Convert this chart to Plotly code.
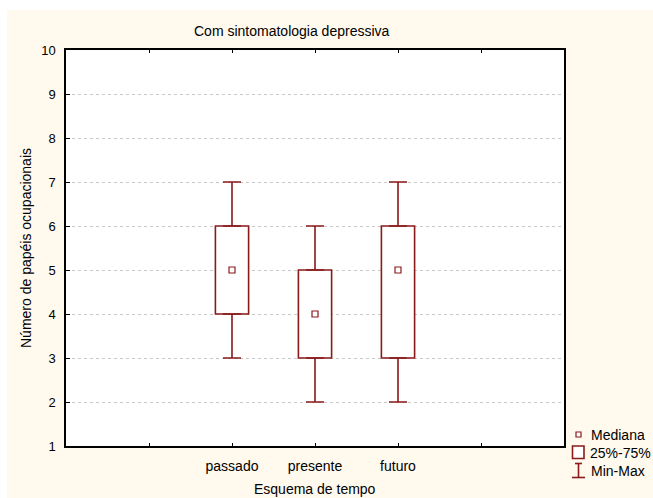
import plotly.graph_objects as go

# ---- data ----
categories = ["passado", "presente", "futuro"]
positions = [2, 3, 4]
medians = [5, 4, 5]
q1 = [4, 3, 3]
q3 = [6, 5, 6]
mins = [3, 2, 2]
maxs = [7, 6, 7]
x_tickvals = [1, 2, 3, 4, 5]
x_ticktext = [""] + categories + [""]
y_ticks = list(range(1, 11))

RED = "#8B1A1A"
BEIGE = "#FFF9EE"
FONT = "Liberation Sans, Arial, sans-serif"

W, H = 653, 498
L, R, T, B = 66, 89, 50, 52
PW, PH = W - L - R, H - T - B


def pxx(px):
    return (px - L) / PW


def pxy(py):
    return (H - B - py) / PH


fig = go.Figure()

# boxes (25%-75%)
fig.add_trace(go.Bar(
    x=positions, y=[b - a for a, b in zip(q1, q3)], base=q1, width=0.4,
    marker=dict(color="white", line=dict(color=RED, width=1.6)),
    showlegend=False, hoverinfo="skip",
))
# upper whiskers
fig.add_trace(go.Scatter(
    x=positions, y=q3, mode="markers",
    marker=dict(size=1, color="rgba(0,0,0,0)"),
    error_y=dict(type="data", symmetric=False,
                 array=[mx - a for mx, a in zip(maxs, q3)],
                 arrayminus=[0] * len(q3),
                 color=RED, thickness=1.6, width=9),
    showlegend=False, hoverinfo="skip",
))
# lower whiskers
fig.add_trace(go.Scatter(
    x=positions, y=q1, mode="markers",
    marker=dict(size=1, color="rgba(0,0,0,0)"),
    error_y=dict(type="data", symmetric=False,
                 array=[0] * len(q1),
                 arrayminus=[a - mn for a, mn in zip(q1, mins)],
                 color=RED, thickness=1.6, width=9),
    showlegend=False, hoverinfo="skip",
))
# medians
fig.add_trace(go.Scatter(
    x=positions, y=medians, mode="markers",
    marker=dict(symbol="square-open", size=6, color=RED, line=dict(width=1.2)),
    showlegend=False, hoverinfo="skip",
))

shapes = [
    dict(type="rect", xref="paper", yref="paper", layer="below",
         x0=pxx(7), x1=pxx(W), y0=pxy(H), y1=pxy(10),
         fillcolor=BEIGE, line=dict(width=0)),
    dict(type="rect", xref="paper", yref="paper", layer="below",
         x0=0, x1=1, y0=0, y1=1, fillcolor="white", line=dict(width=0)),
    # legend icons
    dict(type="rect", xref="paper", yref="paper",
         x0=pxx(576), x1=pxx(581), y0=pxy(437), y1=pxy(432),
         fillcolor="white", line=dict(color=RED, width=1.2)),
    dict(type="rect", xref="paper", yref="paper",
         x0=pxx(572.5), x1=pxx(584), y0=pxy(458.5), y1=pxy(446),
         fillcolor="white", line=dict(color=RED, width=1.6)),
    dict(type="line", xref="paper", yref="paper",
         x0=pxx(578.5), x1=pxx(578.5), y0=pxy(477.5), y1=pxy(463.5),
         line=dict(color=RED, width=1.6)),
    dict(type="line", xref="paper", yref="paper",
         x0=pxx(575), x1=pxx(582), y0=pxy(463.5), y1=pxy(463.5),
         line=dict(color=RED, width=1.6)),
    dict(type="line", xref="paper", yref="paper",
         x0=pxx(572), x1=pxx(585), y0=pxy(477.5), y1=pxy(477.5),
         line=dict(color=RED, width=1.6)),
]

annotations = [
    dict(text="Com sintomatologia depressiva", x=pxx(292), y=pxy(31),
         xref="paper", yref="paper", showarrow=False,
         xanchor="center", yanchor="middle", font=dict(size=14)),
    dict(text="Esquema de tempo", x=pxx(315), y=pxy(489),
         xref="paper", yref="paper", showarrow=False,
         xanchor="center", yanchor="middle", font=dict(size=14)),
    dict(text="Número de papéis ocupacionais", x=pxx(26), y=pxy(248),
         xref="paper", yref="paper", showarrow=False, textangle=-90,
         xanchor="center", yanchor="middle", font=dict(size=14)),
    dict(text="Mediana", x=pxx(589), y=pxy(434.5),
         xref="paper", yref="paper", showarrow=False,
         xanchor="left", yanchor="middle", font=dict(size=14)),
    dict(text="25%-75%", x=pxx(588), y=pxy(452.5),
         xref="paper", yref="paper", showarrow=False,
         xanchor="left", yanchor="middle", font=dict(size=14)),
    dict(text="Min-Max", x=pxx(589), y=pxy(471),
         xref="paper", yref="paper", showarrow=False,
         xanchor="left", yanchor="middle", font=dict(size=14)),
]

fig.update_layout(
    width=W, height=H,
    margin=dict(l=L, r=R, t=T, b=B, pad=0),
    paper_bgcolor="white", plot_bgcolor="white",
    font=dict(family=FONT, size=13, color="black"),
    showlegend=False,
    barmode="overlay",
    shapes=shapes, annotations=annotations,
    xaxis=dict(range=[0, 6], tickmode="array", tickvals=x_tickvals,
               ticktext=x_ticktext, showgrid=False, zeroline=False,
               showline=True, linecolor="black", linewidth=1.5,
               mirror="ticks", ticks="inside", ticklen=3, tickwidth=1,
               tickcolor="black", ticklabelstandoff=6,
               tickfont=dict(size=14)),
    yaxis=dict(range=[1, 10], tickmode="array", tickvals=y_ticks,
               showgrid=True, gridcolor="#C8C8C8", griddash="dot", gridwidth=1,
               zeroline=False, showline=True, linecolor="black", linewidth=1.5,
               mirror=True, ticks="inside", ticklen=4, tickwidth=1,
               tickcolor="black", ticklabelstandoff=6,
               tickfont=dict(size=13)),
)

fig.write_html("out.html")
